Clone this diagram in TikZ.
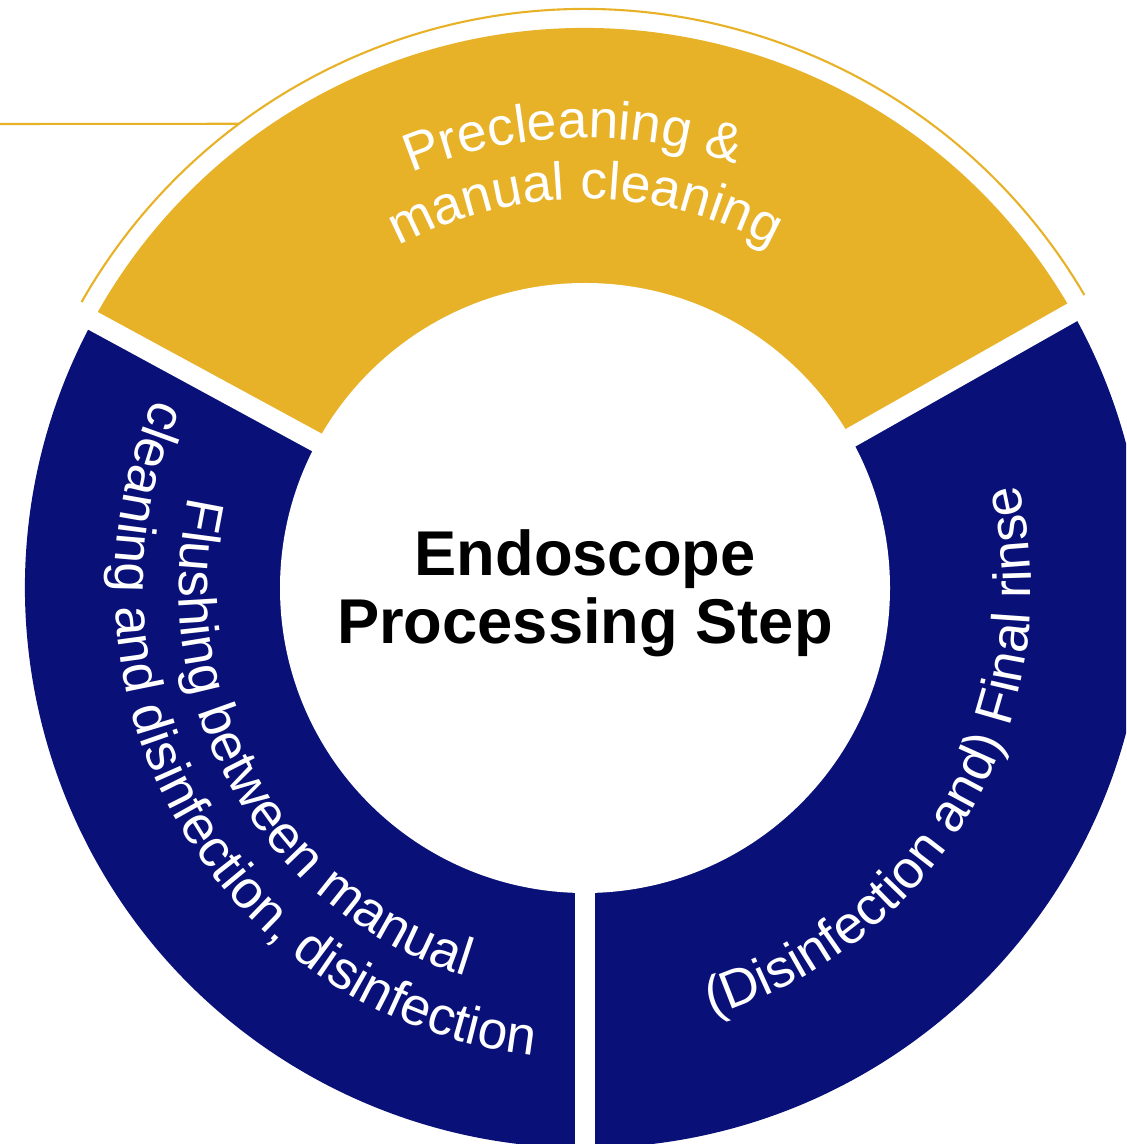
\documentclass[tikz,border=0pt]{standalone}
\usepackage{fontspec}
\setmainfont{Liberation Sans}
\usepackage{tikz}
\usetikzlibrary{decorations.text}

\definecolor{stepgold}{RGB}{232,178,40}
\definecolor{stepnavy}{RGB}{9,17,120}
\newcommand{\ringfont}{\fontsize{15.2}{18}\selectfont}

\begin{document}
\begin{tikzpicture}
	[gap/.style={white, line width=2mm},
	 rim/.style={stepgold, line width=0.6pt},
	 ringtext/.style={decorate, decoration={text along path,
	   text align=center, text color=white, text={|\ringfont|#1}}}]
	\useasboundingbox (-5.85,-5.56) rectangle (5.41,5.88);
	\clip (-5.85,-5.56) rectangle (5.41,5.88);
	% the three ring segments
	\fill[stepgold] (0,0) -- (29.5:5.6) arc[start angle=29.5, end angle=151.5, radius=5.6] -- cycle;
	\fill[stepnavy] (0,0) -- (151.5:5.6) arc[start angle=151.5, end angle=270, radius=5.6] -- cycle;
	\fill[stepnavy] (0,0) -- (-90:5.6) arc[start angle=-90, end angle=29.5, radius=5.6] -- cycle;
	\foreach \a in {29.5,151.5,270}
		\draw[gap] (0,0) -- (\a:5.7);
	\fill[white] (0,0) circle (3.05);
	% outer rim and lead line
	\draw[rim] (30.4:5.79) arc[start angle=30.4, end angle=150.4, radius=5.79];
	\coordinate (lead) at (-5.9,4.64);
	\coordinate (tip) at (126.7:5.79);
	\draw[rim] (lead) -- (tip);
	% labels
	\node[align=center, font=\bfseries\fontsize{18}{19.3}\selectfont] (title) at (0,-0.05)
		{Endoscope\\Processing Step};
	\path[ringtext={Precleaning {\&}}] (151.5:4.5) arc[start angle=151.5, end angle=31.5, radius=4.5];
	\path[ringtext={manual cleaning}] (150:3.89) arc[start angle=150, end angle=30, radius=3.89];
	\path[ringtext={Flushing between manual}] (150:4.06) arc[start angle=150, end angle=270, radius=4.06];
	\path[ringtext={cleaning and disinfection, disinfection}] (150:4.7) arc[start angle=150, end angle=270, radius=4.7];
	\path[ringtext={(Disinfection and) Final rinse}] (-90:4.46) arc[start angle=-90, end angle=30, radius=4.46];
\end{tikzpicture}
\end{document}
